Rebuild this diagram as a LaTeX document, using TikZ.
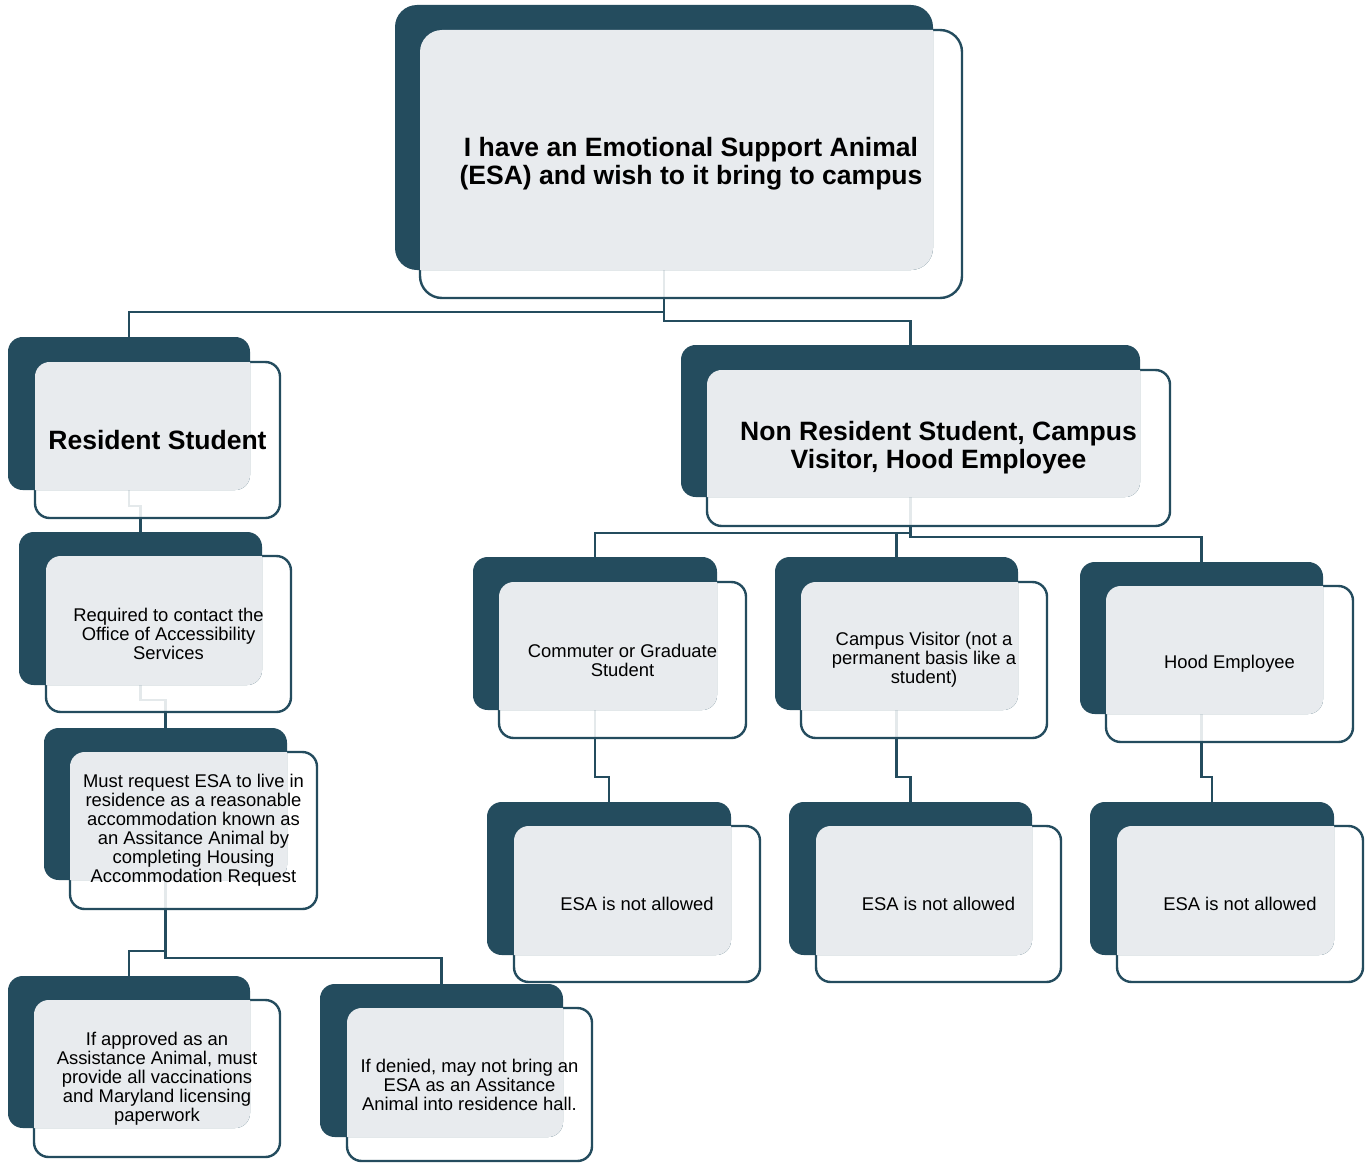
\documentclass[tikz,border=0pt]{standalone}
\usepackage{fontspec}
\setmainfont{Liberation Sans}
\usetikzlibrary{calc}
\definecolor{darkteal}{HTML}{244C5E}
\definecolor{paleg}{HTML}{E8EBEE}
\pgfdeclarelayer{paper}
\pgfdeclarelayer{bg}
\pgfsetlayers{paper,bg,main}
\def\boxrad{11pt}
\newcommand{\esaunit}[9]{%
  \pgfmathsetmacro{\uw}{(#4-#2)*0.75}%
  \pgfmathsetmacro{\uh}{(#5-#3)*0.75}%
  \pgfmathsetmacro{\vw}{(#8-#6)*0.75}%
  \pgfmathsetmacro{\vh}{(#9-#7)*0.75}%
  \node[frontbox, rounded corners=\boxrad, minimum width=\vw pt, minimum height=\vh pt] (#1B) at ({(#6+#8)/2},{(#7+#9)/2}) {};
  \node[backbox, rounded corners=\boxrad, minimum width=\uw pt, minimum height=\uh pt] (#1) at ({(#2+#4)/2},{(#3+#5)/2}) {};
  \begin{scope}
    \clip[rounded corners=\boxrad] (#1.south west) rectangle (#1.north east);
    \fill[paleg, rounded corners=\boxrad] (#1B.south west) rectangle (#1B.north east);
  \end{scope}
}
\begin{document}
\begin{tikzpicture}[x=0.75pt,y=-0.75pt,
  backbox/.style={rectangle, fill=darkteal, draw=none, inner sep=0pt, outer sep=0pt},
  frontbox/.style={rectangle, draw=darkteal, line width=1.8pt, fill=white, fill opacity=0.88, inner sep=0pt, outer sep=0pt},
  conn/.style={draw=darkteal, line width=1.7pt},
  title/.style={font=\fontsize{19.9}{21}\selectfont\bfseries, align=center, text=black},
  body/.style={font=\fontsize{13.8}{14.3}\selectfont, align=center, text=black}]
\useasboundingbox (0,0) rectangle (1366,1163);
\begin{pgfonlayer}{paper}
\fill[white] (0,0) rectangle (1366,1163);
\end{pgfonlayer}

\def\boxrad{16.5pt}
\esaunit{top}{395}{5}{933}{270}{420}{30}{962}{298}
\def\boxrad{11pt}
\esaunit{res}{8}{337}{250}{490}{35}{362}{280}{518}
\esaunit{req}{19}{532}{262}{685}{46}{556}{291}{712}
\esaunit{must}{44}{728}{287}{880}{70}{752}{317}{909}
\esaunit{appr}{8}{976}{250}{1128}{34}{1000}{280}{1157}
\esaunit{deny}{320}{984}{563}{1137}{347}{1008}{592}{1161}
\esaunit{nonres}{681}{345}{1140}{497}{707}{370}{1170}{526}
\esaunit{comm}{473}{557}{717}{710}{499}{582}{746}{738}
\esaunit{visit}{775}{557}{1018}{710}{801}{582}{1047}{738}
\esaunit{hood}{1080}{562}{1323}{714}{1106}{586}{1353}{742}
\esaunit{esaA}{487}{802}{731}{955}{514}{826}{760}{982}
\esaunit{esaB}{789}{802}{1032}{955}{816}{826}{1061}{982}
\esaunit{esaC}{1090}{802}{1334}{955}{1117}{826}{1363}{982}

\node[title] (topT) at (topB) {I have an Emotional Support Animal\\(ESA) and wish to it bring to campus};
\node[title] (resT) at (resB) {Resident Student};
\node[body] (reqT) at (reqB) {Required to contact the\\Office of Accessibility\\Services};
\node[body] (mustT) at (mustB) {Must request ESA to live in\\residence as a reasonable\\accommodation known as\\an Assitance Animal by\\completing Housing\\Accommodation Request};
\node[body] (apprT) at (apprB) {If approved as an\\Assistance Animal, must\\provide all vaccinations\\and Maryland licensing\\paperwork};
\node[body] (denyT) at (denyB) {If denied, may not bring an\\ESA as an Assitance\\Animal into residence hall.};
\node[title] (nonresT) at (nonresB) {Non Resident Student, Campus\\Visitor, Hood Employee};
\node[body] (commT) at (commB) {Commuter or Graduate\\Student};
\node[body] (visitT) at (visitB) {Campus Visitor (not a\\permanent basis like a\\student)};
\node[body] (hoodT) at (hoodB) {Hood Employee};
\node[body] (esaAT) at (esaAB) {ESA is not allowed};
\node[body] (esaBT) at (esaBB) {ESA is not allowed};
\node[body] (esaCT) at (esaCB) {ESA is not allowed};

\begin{pgfonlayer}{bg}
\draw[conn] (top.south) -- ++(0,42) -| (res.north);
\draw[conn] (top.south) -- ++(0,51) -| (nonres.north);
\draw[conn] (res.south) -- ++(0,16) -| (req.north);
\draw[conn] (req.south) -- ++(0,15) -| (must.north);
\draw[conn] (must.south) -- ++(0,71) -| (appr.north);
\draw[conn] (must.south) -- ++(0,78) -| (deny.north);
\draw[conn] (nonres.south) -- ++(0,36) -| (comm.north);
\draw[conn] (nonres.south) -- ++(0,36) -| (visit.north);
\draw[conn] (nonres.south) -- ++(0,40) -| (hood.north);
\draw[conn] (comm.south) -- ++(0,67) -| (esaA.north);
\draw[conn] (visit.south) -- ++(0,67) -| (esaB.north);
\draw[conn] (hood.south) -- ++(0,63) -| (esaC.north);
\end{pgfonlayer}
\end{tikzpicture}
\end{document}
